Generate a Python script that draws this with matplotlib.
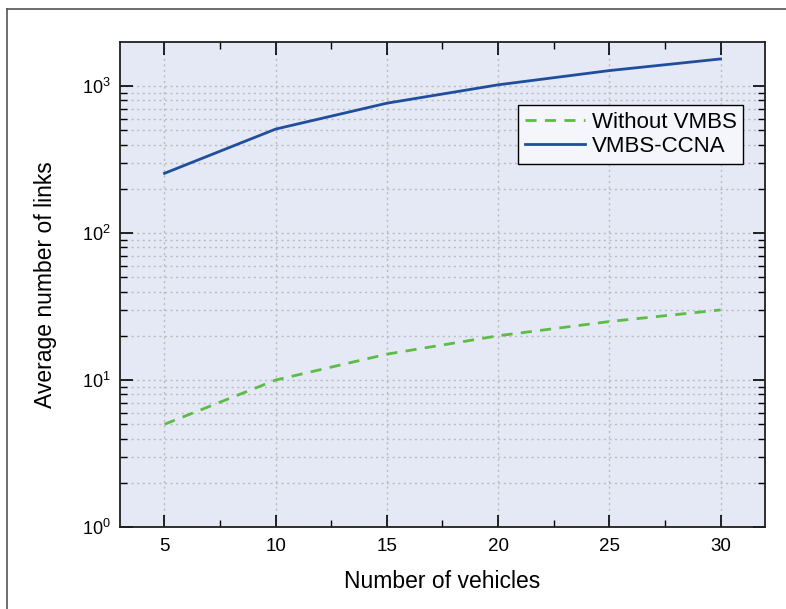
import matplotlib
matplotlib.use("Agg")
import matplotlib.pyplot as plt
from matplotlib.lines import Line2D
from matplotlib.ticker import LogLocator, MultipleLocator, NullFormatter

plt.rcParams['font.family'] = ['Liberation Sans', 'DejaVu Sans']
plt.rcParams['mathtext.fontset'] = 'custom'
plt.rcParams['mathtext.rm'] = 'Liberation Sans'

vehicles = [5, 10, 15, 20, 25, 30]
without_vmbs = [5, 10, 15, 20, 25, 30]
vmbs_ccna = [255, 510, 765, 1020, 1275, 1530]
x_ticks = [5, 10, 15, 20, 25, 30]

fig = plt.figure(figsize=(7.86, 6.09), dpi=100)
ax = fig.add_axes([120/786, 1-527/609, (765-120)/786, (527-42)/609])
ax.set_facecolor('#e4e9f5')

ax.plot(vehicles, without_vmbs, color='#5dbb46', lw=2, ls=(0, (4, 3)), label='Without VMBS')
ax.plot(vehicles, vmbs_ccna, color='#1f4e9c', lw=2, label='VMBS-CCNA')

ax.set_yscale('log')
ax.set_xlim(3, 32)
ax.set_ylim(1, 10**3.3)
ax.set_xticks(x_ticks)
ax.xaxis.set_minor_locator(MultipleLocator(2.5))
ax.yaxis.set_major_locator(LogLocator(base=10, numticks=10))
ax.yaxis.set_minor_locator(LogLocator(base=10, subs=range(2, 10), numticks=20))
ax.yaxis.set_minor_formatter(NullFormatter())

ax.grid(True, which='major', color='#bbbbbb', ls=(0, (1.5, 2.5)), lw=1)
ax.grid(True, which='minor', axis='y', color='#bbbbbb', ls=(0, (1.5, 2.5)), lw=1)
ax.set_axisbelow(True)

ax.tick_params(which='both', direction='in', top=True, right=True, colors='black')
ax.tick_params(which='major', length=9, width=1.2)
ax.tick_params(which='minor', length=5, width=1.0)
ax.tick_params(axis='x', pad=8, labelsize=13.5)
ax.tick_params(axis='y', pad=7, labelsize=13)
for s in ax.spines.values():
    s.set_linewidth(1.3)
    s.set_color('#202020')

ax.set_xlabel('Number of vehicles', fontsize=16.5, labelpad=11)
ax.set_ylabel('Average number of links', fontsize=16.5, labelpad=18)

leg = ax.legend(loc='upper right', bbox_to_anchor=(0.966, 0.870), borderaxespad=0,
                fontsize=16, fancybox=False, framealpha=1, edgecolor='black',
                facecolor='#f5f6fb', handlelength=2.7, handletextpad=0.3,
                labelspacing=0.15, borderpad=0.3)
leg.get_frame().set_linewidth(1.0)

fig.add_artist(Line2D([7/786, 7/786], [0, 1-9/609], color='#555555', lw=1.2, transform=fig.transFigure))
fig.add_artist(Line2D([7/786, 1], [1-9/609, 1-9/609], color='#555555', lw=1.2, transform=fig.transFigure))

fig.savefig('out.png', dpi=100)
